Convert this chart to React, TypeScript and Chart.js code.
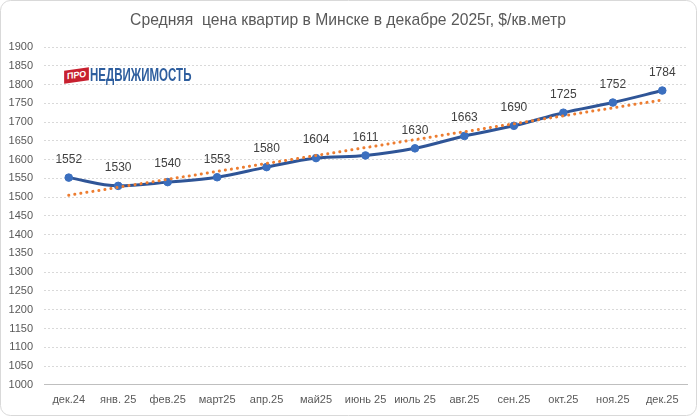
import React, { useEffect, useRef } from "react";
import { Chart, registerables } from "chart.js";

Chart.register(...registerables);

const titleText = "Средняя  цена квартир в Минске в декабре 2025г, $/кв.метр";
const categories = ["дек.24", "янв. 25", "фев.25", "март25", "апр.25", "май25", "июнь 25", "июль 25", "авг.25", "сен.25", "окт.25", "ноя.25", "дек.25"];
const prices = [1552, 1530, 1540, 1553, 1580, 1604, 1611, 1630, 1663, 1690, 1725, 1752, 1784];
const trendStart = 1505;
const trendEnd = 1759;
const yMin = 1000;
const yMax = 1900;
const yStep = 50;

export default function App() {
  const ref = useRef<HTMLCanvasElement | null>(null);

  useEffect(() => {
    document.body.style.margin = "0";
    const canvas = ref.current;
    if (!canvas) return;

    const trend = categories.map((_, i) => (i === 0 ? trendStart : i === categories.length - 1 ? trendEnd : null));

    const framePlugin = {
      id: "frame",
      beforeDraw(chart: any) {
        const ctx = chart.ctx;
        ctx.save();
        ctx.fillStyle = "#ffffff";
        ctx.fillRect(0, 0, chart.width, chart.height);
        ctx.strokeStyle = "#d9d9d9";
        ctx.lineWidth = 1;
        ctx.beginPath();
        (ctx as any).roundRect(0.5, 0.5, chart.width - 1, chart.height - 1, 10);
        ctx.stroke();
        ctx.fillStyle = "#595959";
        ctx.font = "15.7px 'Liberation Sans', Arial, sans-serif";
        ctx.textAlign = "center";
        ctx.textBaseline = "middle";
        ctx.fillText(titleText, 348, 21);
        ctx.restore();
      },
    };

    const labelPlugin = {
      id: "pointLabels",
      afterDatasetsDraw(chart: any) {
        const ctx = chart.ctx;
        const meta = chart.getDatasetMeta(1);
        ctx.save();
        ctx.fillStyle = "#404040";
        ctx.font = "12px 'Liberation Sans', Arial, sans-serif";
        ctx.textAlign = "center";
        ctx.textBaseline = "middle";
        meta.data.forEach((pt: any, i: number) => {
          ctx.fillText(String(prices[i]), pt.x, pt.y - 18);
        });
        ctx.restore();
      },
    };

    const chart = new Chart(canvas, {
      type: "line",
      data: {
        labels: categories,
        datasets: [
          {
            label: "trend",
            data: trend as any,
            spanGaps: true,
            borderColor: "#ED7D31",
            borderWidth: 3,
            borderDash: [0.1, 6],
            borderCapStyle: "round",
            pointRadius: 0,
            fill: false,
          },
          {
            label: "price",
            data: prices,
            borderColor: "#2F5597",
            borderWidth: 3,
            pointRadius: 3.8,
            pointBackgroundColor: "#3B6FBF",
            pointBorderColor: "#3B6FBF",
            pointBorderWidth: 1,
            tension: 0.3,
            cubicInterpolationMode: "monotone",
            fill: false,
          },
        ],
      },
      options: {
        animation: false,
        responsive: false,
        devicePixelRatio: 1,
        layout: { padding: { top: 47, right: 10, bottom: 0, left: 0 } },
        plugins: {
          legend: { display: false },
          title: { display: false },
          tooltip: { enabled: false },
        },
        scales: {
          x: {
            offset: true,
            grid: { display: false, drawTicks: false },
            border: { display: true, color: "#bfbfbf", width: 1 },
            ticks: {
              color: "#595959",
              font: { size: 11, family: "'Liberation Sans', Arial, sans-serif" },
              padding: 9,
              maxRotation: 0,
              autoSkip: false,
            },
          },
          y: {
            min: yMin,
            max: yMax,
            afterFit(scale: any) {
              scale.width = 44;
            },
            grid: {
              color: (c: any) => (c.tick && c.tick.value === yMin ? "rgba(0,0,0,0)" : "#d9d9d9"),
              drawTicks: false,
            },
            border: { display: false, dash: [2, 2] } as any,
            ticks: {
              stepSize: yStep,
              color: "#595959",
              font: { size: 11, family: "'Liberation Sans', Arial, sans-serif" },
              padding: 11,
              callback: (v: any) => String(v),
            },
          },
        },
      },
      plugins: [framePlugin, labelPlugin],
    });

    return () => chart.destroy();
  }, []);

  return (
    <div style={{ position: "absolute", left: 0, top: 0, width: 697, height: 416 }}>
      <canvas ref={ref} width={697} height={416} style={{ display: "block", width: 697, height: 416 }} />
      <div
        style={{
          position: "absolute",
          left: 64,
          top: 66,
          height: 18,
          display: "flex",
          alignItems: "center",
          pointerEvents: "none",
        }}
      >
        <div
          style={{
            background: "#C8202F",
            color: "#fff",
            fontFamily: "'Liberation Sans', Arial, sans-serif",
            fontWeight: "bold",
            fontSize: 9,
            lineHeight: "13px",
            padding: "0 3px",
            transform: "rotate(-8deg) skewX(-8deg)",
            marginRight: 1,
          }}
        >
          ПРО
        </div>
        <div
          style={{
            color: "#2E5E9E",
            fontFamily: "'Liberation Sans Narrow', 'Liberation Sans', Arial, sans-serif",
            fontWeight: "bold",
            fontSize: 18,
            lineHeight: "18px",
            transform: "scaleX(0.64)",
            transformOrigin: "left center",
            whiteSpace: "nowrap",
          }}
        >
          НЕДВИЖИМОСТЬ
        </div>
      </div>
    </div>
  );
}
